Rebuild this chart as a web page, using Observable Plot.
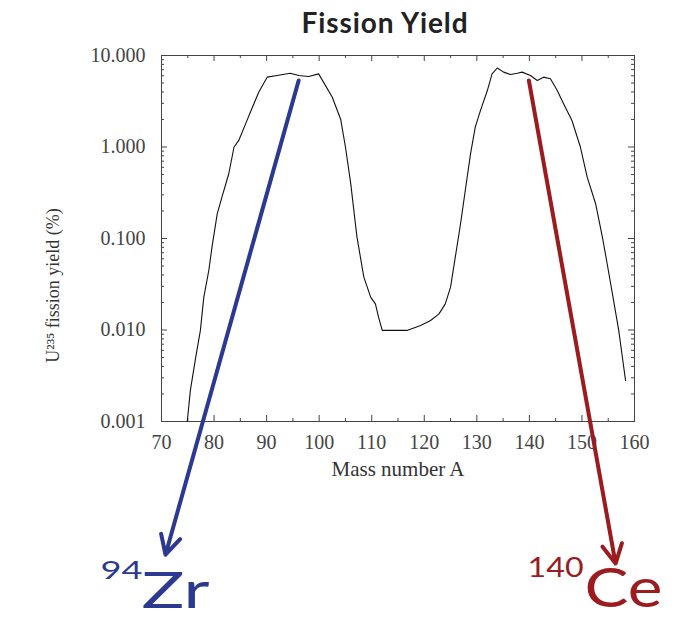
<!DOCTYPE html>
<html><head><meta charset="utf-8">
<script src="https://cdn.jsdelivr.net/npm/d3@7"></script>
<script src="https://cdn.jsdelivr.net/npm/@observablehq/plot@0.6"></script>
<style>
body{margin:0;background:#fff;width:679px;height:618px;position:relative;overflow:hidden}
#title{position:absolute;left:385px;top:8px;transform:translateX(-50%);font-family:Lato,sans-serif;font-weight:bold;font-size:28px;line-height:28px;letter-spacing:0.9px;color:#222;white-space:nowrap}
#chart{position:absolute;left:0;top:40px}
</style></head><body>
<div id="title">Fission Yield</div>
<div id="chart"></div>
<script>
// Mass number A and U-235 fission yield (%)
const massA = [74.9, 75.5, 76.5, 77.4, 78.05, 79.0, 79.6, 80.6, 81.5, 82.8, 83.8, 84.7, 86.0, 87.3, 88.5, 90.1, 92.0, 94.5, 96.1, 98.0, 99.9, 102.5, 104.1, 105.0, 106.0, 107.2, 108.5, 109.8, 110.7, 111.3, 112.0, 116.7, 119.3, 121.2, 122.8, 124.0, 125.0, 125.9, 126.9, 127.8, 128.8, 129.7, 130.7, 132.0, 132.9, 133.9, 135.1, 136.4, 137.7, 138.6, 140.2, 141.5, 142.7, 144.0, 145.3, 146.5, 148.1, 149.7, 151.0, 152.6, 153.9, 154.8, 155.8, 157.0, 157.7, 158.3];
const yieldPct = [0.001, 0.0022, 0.005, 0.0099, 0.0229, 0.0447, 0.080, 0.186, 0.283, 0.51, 1.0, 1.18, 1.79, 2.72, 3.97, 5.8, 6.04, 6.4, 6.04, 5.9, 6.3, 3.5, 2.0, 1.0, 0.40, 0.103, 0.0378, 0.0229, 0.0193, 0.0138, 0.0099, 0.0099, 0.0112, 0.0127, 0.0150, 0.0193, 0.0294, 0.0625, 0.145, 0.335, 0.84, 1.65, 2.51, 4.14, 6.3, 7.3, 6.58, 6.2, 6.4, 6.58, 6.04, 5.34, 5.8, 5.56, 4.14, 2.97, 1.95, 1.0, 0.468, 0.24, 0.103, 0.053, 0.0248, 0.0099, 0.005, 0.0028];

// Axis ticks
const xMajor = [70, 80, 90, 100, 110, 120, 130, 140, 150, 160];
const xMinor = [75, 85, 95, 105, 115, 125, 135, 145, 155];
const yMajor = [0.001, 0.01, 0.1, 1, 10];
const yTickLabels = ["0.001", "0.010", "0.100", "1.000", "10.000"];
const yMinor = [0.001, 0.01, 0.1, 1].flatMap(b => [2,3,4,5,6,7,8,9].map(k => k * b));

// Annotation arrows (mass number, yield) from peak to isotope label
const isotopeMass = ["94", "140"];
const isotopeSymbol = ["Zr", "Ce"];
const arrowFromA = [96.1, 139.9];
const arrowFromY = [5.34, 5.34];
const arrowToA = [70.76, 156.4];
const arrowToY = [3.5e-5, 2.8e-5];

const xTitle = "Mass number A";
const yTitle = "U\u00B2\u00B3\u2075 fission yield (%)";

const curve = massA.map((a, i) => ({A: a, y: yieldPct[i]}));
const arrows = arrowFromA.map((a, i) => ({x1: a, y1: arrowFromY[i], x2: arrowToA[i], y2: arrowToY[i], mass: isotopeMass[i], sym: isotopeSymbol[i]}));
const colors = ["#2b3990", "#9b1b1e"];

const FH = 366, FW = 473;
const serif = "'Liberation Serif', 'Times New Roman', serif";
const sans = "Lato, sans-serif";

const plot = Plot.plot({
  width: 679, height: 578,
  marginTop: 15, marginBottom: 197, marginLeft: 161, marginRight: 45,
  style: {fontFamily: serif, fontSize: "20px", color: "#444", background: "white", overflow: "visible"},
  x: {domain: [70, 160]},
  y: {type: "log", domain: [0.001, 10]},
  marks: [
    Plot.frame({stroke: "#444"}),
    // inward ticks, bottom and top
    Plot.ruleX(xMajor, {x: d => d, insetTop: FH - 6, stroke: "#444"}),
    Plot.ruleX(xMajor, {x: d => d, insetBottom: FH - 6, stroke: "#444"}),
    Plot.ruleX(xMinor, {x: d => d, insetTop: FH - 3, stroke: "#444"}),
    Plot.ruleX(xMinor, {x: d => d, insetBottom: FH - 3, stroke: "#444"}),
    // inward ticks, left and right
    Plot.ruleY(yMajor, {y: d => d, insetRight: FW - 6, stroke: "#444"}),
    Plot.ruleY(yMajor, {y: d => d, insetLeft: FW - 6, stroke: "#444"}),
    Plot.ruleY(yMinor, {y: d => d, insetRight: FW - 3, stroke: "#444"}),
    Plot.ruleY(yMinor, {y: d => d, insetLeft: FW - 3, stroke: "#444"}),
    Plot.axisX(xMajor, {anchor: "bottom", tickSize: 0, tickPadding: 13, label: null, fill: "#444", fontSize: 20}),
    Plot.axisY(yMajor, {anchor: "left", tickSize: 0, tickPadding: 16, label: null, fill: "#444", fontSize: 20,
      tickFormat: d => yTickLabels[yMajor.indexOf(d)]}),
    Plot.text([xTitle], {text: d => d, frameAnchor: "bottom", dy: 54, lineAnchor: "bottom", fontSize: 21, fill: "#333"}),
    Plot.text([yTitle], {text: d => d, frameAnchor: "left", dx: -103, dy: 47, rotate: -90, textAnchor: "middle", lineAnchor: "bottom", fontSize: 18, fill: "#333"}),
    Plot.line(curve, {x: "A", y: "y", stroke: "#111", strokeWidth: 1.1}),
    Plot.arrow(arrows, {x1: "x1", y1: "y1", x2: "x2", y2: "y2", stroke: (d, i) => colors[i], strokeWidth: 4, headLength: 8, headAngle: 55}),
    Plot.text([arrows[0]], {x: "x2", y: "y2", text: "mass", dx: -23, dy: 24, textAnchor: "end", lineAnchor: "bottom", fontFamily: sans, fontSize: 25, fill: colors[0]}),
    Plot.text([arrows[0]], {x: "x2", y: "y2", text: "sym", dx: -24, dy: 53, textAnchor: "start", lineAnchor: "bottom", fontFamily: sans, fontSize: 50, fill: colors[0]}),
    Plot.text([arrows[1]], {x: "x2", y: "y2", text: "mass", dx: -32, dy: 13, textAnchor: "end", lineAnchor: "bottom", fontFamily: sans, fontSize: 26, fill: colors[1]}),
    Plot.text([arrows[1]], {x: "x2", y: "y2", text: "sym", dx: -31, dy: 43, textAnchor: "start", lineAnchor: "bottom", fontFamily: sans, fontSize: 54, fill: colors[1]})
  ]
});
// the slide's labels are set in a wide face: stretch the glyphs to the reference widths
const stretch = {"94": 42, "Zr": 68, "140": 56, "Ce": 78};
plot.querySelectorAll("g[font-family*='Lato'] text, text[font-family*='Lato']").forEach(t => {
  const w = stretch[t.textContent];
  if (w) {
    t.setAttribute("textLength", w);
    t.setAttribute("lengthAdjust", "spacingAndGlyphs");
  }
});
document.getElementById("chart").appendChild(plot);
</script>
</body></html>
